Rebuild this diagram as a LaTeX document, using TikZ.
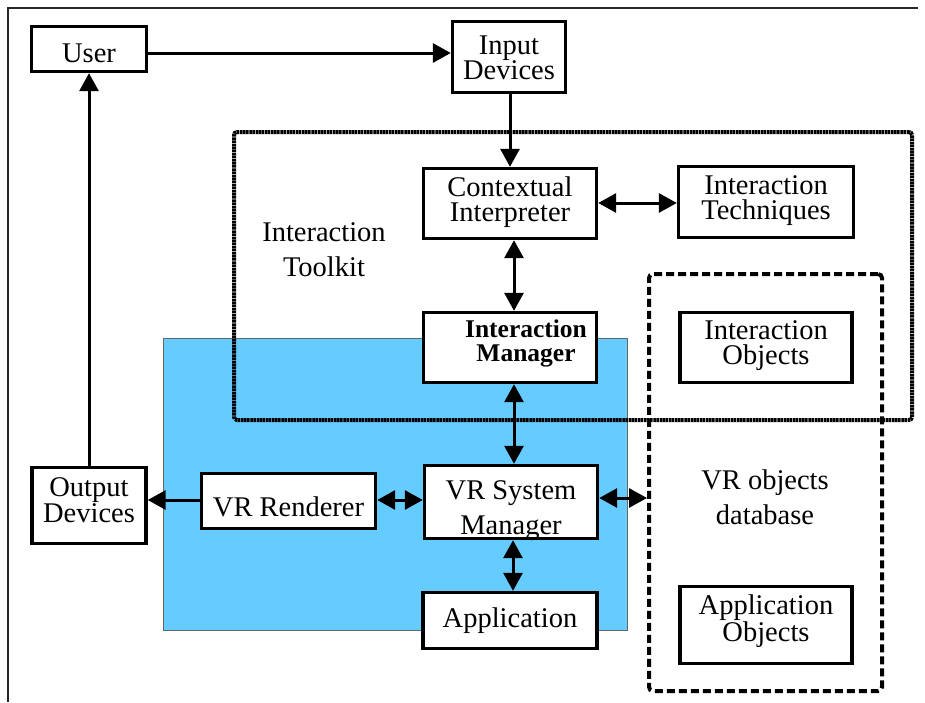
\documentclass[tikz,border=0pt]{standalone}
\usepackage{fontspec}
\setmainfont{Liberation Serif}
\usetikzlibrary{arrows.meta}
\definecolor{vrblue}{HTML}{66CCFF}
\begin{document}
\begin{tikzpicture}[x=1pt,y=-1pt,
  box/.style={draw,line width=3.4pt,fill=white,inner sep=0pt},
  lbl/.style={align=center,inner sep=0pt,font=\fontsize{28.5}{25}\selectfont},
  arr/.style={line width=3pt,-{Triangle[length=18pt,width=19pt]}},
  darr/.style={line width=3pt,{Triangle[length=18pt,width=19pt]}-{Triangle[length=18pt,width=19pt]}},
  freetext/.style={align=center,font=\fontsize{28.5}{35}\selectfont},
  toolkit/.style={draw,line width=4pt,dash pattern=on 2.5pt off 0.6pt,rounded corners=3pt,inner sep=0pt},
  database/.style={draw,line width=4pt,dash pattern=on 8pt off 4pt,rounded corners=4pt,inner sep=0pt}]
\useasboundingbox (0,0) rectangle (925,702);

% page frame
\draw[line width=1.8pt,black!85] (8,702) -- (8,8) -- (918,8);

% VR system area
\draw[fill=vrblue,draw=black!60,line width=0.8pt] (163,338) rectangle (627,630);

% grouping frames
\node[toolkit,minimum width=678pt,minimum height=288pt] (tk) at (573,276) {};
\node[database,minimum width=233pt,minimum height=417pt] (db) at (765.5,482.5) {};
\node[freetext] (tktext) at (324,250) {Interaction\\Toolkit};
\node[freetext] (dbtext) at (765,497) {VR objects\\database};

% component frames
\node[box,minimum width=115pt,minimum height=45pt] (user) at (89,49) {};
\node[box,minimum width=113pt,minimum height=71pt] (input) at (509,57) {};
\node[box,minimum width=173pt,minimum height=70pt] (ci) at (510,203.5) {};
\node[box,minimum width=175pt,minimum height=71pt] (it) at (766,202) {};
\node[box,minimum width=173pt,minimum height=70pt] (im) at (510,347.5) {};
\node[box,minimum width=172pt,minimum height=70pt] (io) at (766,347.5) {};
\node[box,minimum width=173pt,minimum height=73pt] (vrsm) at (511,502) {};
\node[box,minimum width=174pt,minimum height=56pt] (app) at (510,620.5) {};
\node[box,minimum width=174pt,minimum height=55pt] (vrr) at (288.5,501) {};
\node[box,minimum width=114pt,minimum height=76pt] (out) at (89,505.5) {};
\node[box,minimum width=172pt,minimum height=77pt] (ao) at (766,625) {};

% component names
\node[lbl] (user-t) at ([yshift=-4pt]user.center) {User};
\node[lbl] (input-t) at ([yshift=-1pt]input.center) {Input\\Devices};
\node[lbl] (ci-t) at ([yshift=1.5pt]ci.center) {Contextual\\Interpreter};
\node[lbl] (it-t) at ([yshift=1.5pt]it.center) {Interaction\\Techniques};
\node[lbl,font=\fontsize{25.5}{24}\selectfont\bfseries] (im-t) at ([xshift=16pt,yshift=4pt]im.center) {Interaction\\Manager};
\node[lbl] (io-t) at ([yshift=1.5pt]io.center) {Interaction\\Objects};
\node[lbl,font=\fontsize{28.5}{35}\selectfont] (vrsm-t) at ([yshift=-9pt]vrsm.center) {VR System\\Manager};
\node[lbl] (app-t) at (app.center) {Application};
\node[lbl] (vrr-t) at ([yshift=-6pt]vrr.center) {VR Renderer};
\node[lbl,font=\fontsize{28.5}{23.5}\selectfont] (out-t) at ([yshift=5pt]out.center) {Output\\Devices};
\node[lbl] (ao-t) at ([yshift=4pt]ao.center) {Application\\Objects};

% connector rows and columns
\coordinate (yUI) at (0,53);
\coordinate (yCT) at (0,203);
\coordinate (yRV) at (0,500);
\coordinate (yVD) at (0,498);
\coordinate (xIC) at (510,0);
\coordinate (xCM) at (514,0);
\coordinate (xMA) at (513,0);
\coordinate (xOU) at (89,0);

% connectors
\draw[arr] (user.east |- yUI) -- (input.west |- yUI);
\draw[arr] (input.south -| xIC) -- (ci.north -| xIC);
\draw[darr] (ci.east |- yCT) -- (it.west |- yCT);
\draw[darr] (ci.south -| xCM) -- (im.north -| xCM);
\draw[darr] (im.south -| xCM) -- (vrsm.north -| xCM);
\draw[darr] (vrsm.south -| xMA) -- (app.north -| xMA);
\draw[darr] (vrr.east |- yRV) -- (vrsm.west |- yRV);
\draw[arr] (vrr.west |- yRV) -- (out.east |- yRV);
\draw[darr] (vrsm.east |- yVD) -- (db.west |- yVD);
\draw[arr] (out.north -| xOU) -- (user.south -| xOU);
\end{tikzpicture}
\end{document}
